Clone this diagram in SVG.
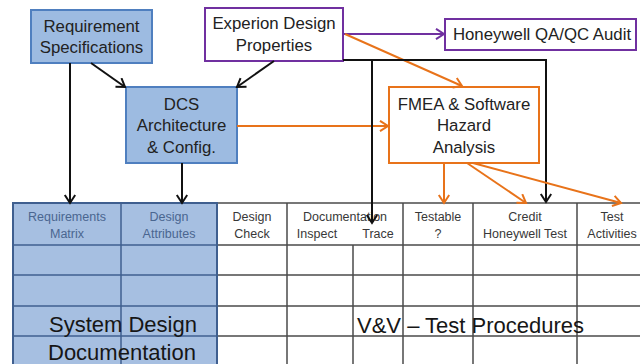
<svg xmlns="http://www.w3.org/2000/svg" width="640" height="364" viewBox="0 0 640 364">
<style>
  text { font-family: "Liberation Sans", Arial, sans-serif; fill: #222222; }
  .box { font-size: 16.8px; text-anchor: middle; }
  .hdr { font-size: 12.5px; text-anchor: middle; fill: #383838; }
  .hdrb { font-size: 12.5px; text-anchor: middle; fill: #4a6690; }
  .big { font-size: 22px; fill: #161616; }
  .grid { stroke: #4a4a4a; stroke-width: 1.5; fill: none; }
  .bgrid { stroke: #3f5f8f; stroke-width: 1.5; fill: none; }
  .blk { stroke: #111; stroke-width: 2; fill: none; marker-end: url(#ab); }
  .org { stroke: #e8731a; stroke-width: 2; fill: none; marker-end: url(#ao); }
  .pur { stroke: #7030a0; stroke-width: 2; fill: none; marker-end: url(#ap); }
</style>
<defs>
  <marker id="ab" markerUnits="userSpaceOnUse" markerWidth="13" markerHeight="13" refX="10" refY="6" orient="auto">
    <path d="M2,0.8 L10,6 L2,11.2" fill="none" stroke="#111" stroke-width="2"/>
  </marker>
  <marker id="ao" markerUnits="userSpaceOnUse" markerWidth="13" markerHeight="13" refX="10" refY="6" orient="auto">
    <path d="M2,0.8 L10,6 L2,11.2" fill="none" stroke="#e8731a" stroke-width="2"/>
  </marker>
  <marker id="ap" markerUnits="userSpaceOnUse" markerWidth="13" markerHeight="13" refX="10" refY="6" orient="auto">
    <path d="M2,0.8 L10,6 L2,11.2" fill="none" stroke="#7030a0" stroke-width="2"/>
  </marker>
</defs>
<rect width="640" height="364" fill="#ffffff"/>

<g id="table">
  <rect x="13" y="203" width="204" height="165" fill="#a6bfe1"/>
  <line class="grid" x1="217" y1="203" x2="640" y2="203"/>
  <line class="grid" x1="217" y1="245" x2="640" y2="245"/>
  <line class="grid" x1="217" y1="275" x2="640" y2="275"/>
  <line class="grid" x1="217" y1="306" x2="640" y2="306"/>
  <line class="grid" x1="217" y1="336" x2="640" y2="336"/>
  <line class="grid" x1="287" y1="203" x2="287" y2="364"/>
  <line class="grid" x1="353" y1="245" x2="353" y2="364"/>
  <line class="grid" x1="403" y1="203" x2="403" y2="364"/>
  <line class="grid" x1="473" y1="203" x2="473" y2="364"/>
  <line class="grid" x1="577" y1="203" x2="577" y2="364"/>
  <line class="bgrid" x1="13" y1="245" x2="217" y2="245"/>
  <line class="bgrid" x1="13" y1="275" x2="217" y2="275"/>
  <line class="bgrid" x1="13" y1="306" x2="217" y2="306"/>
  <line class="bgrid" x1="13" y1="336" x2="217" y2="336"/>
  <line class="bgrid" x1="121" y1="203" x2="121" y2="364"/>
  <path d="M13,364 L13,203 L217,203 L217,364" stroke="#3f5f8f" stroke-width="2" fill="none"/>
  <text class="hdrb" x="67" y="221">Requirements</text>
  <text class="hdrb" x="67" y="238">Matrix</text>
  <text class="hdrb" x="169" y="221">Design</text>
  <text class="hdrb" x="169" y="238">Attributes</text>
  <text class="hdr" x="252" y="221">Design</text>
  <text class="hdr" x="252" y="238">Check</text>
  <text class="hdr" x="345" y="221">Documentation</text>
  <text class="hdr" x="317" y="238">Inspect</text>
  <text class="hdr" x="378" y="238">Trace</text>
  <text class="hdr" x="438" y="221">Testable</text>
  <text class="hdr" x="438" y="238">?</text>
  <text class="hdr" x="525" y="221">Credit</text>
  <text class="hdr" x="525" y="238">Honeywell Test</text>
  <text class="hdr" x="612" y="221">Test</text>
  <text class="hdr" x="612" y="238">Activities</text>
  <text class="big" x="123" y="332" text-anchor="middle">System Design</text>
  <text class="big" x="122" y="360" text-anchor="middle">Documentation</text>
  <text class="big" x="357" y="333">V&amp;V – Test Procedures</text>
</g>

<g id="req-spec">
  <rect x="31" y="10" width="121" height="53" fill="#9dbbe1" stroke="#4f7fbf" stroke-width="2"/>
  <text class="box" x="91.5" y="32">Requirement</text>
  <text class="box" x="91.5" y="53">Specifications</text>
</g>

<g id="experion">
  <rect x="205" y="8" width="138" height="53" fill="#ffffff" stroke="#7030a0" stroke-width="2"/>
  <text class="box" x="274" y="29">Experion Design</text>
  <text class="box" x="274" y="51">Properties</text>
</g>

<g id="honeywell">
  <rect x="445" y="19" width="191" height="31" fill="#ffffff" stroke="#7030a0" stroke-width="2"/>
  <text class="box" x="542" y="40">Honeywell QA/QC Audit</text>
</g>

<g id="dcs">
  <rect x="126" y="87" width="111" height="76" fill="#9dbbe1" stroke="#4f7fbf" stroke-width="2"/>
  <text class="box" x="181.5" y="110">DCS</text>
  <text class="box" x="181.5" y="131">Architecture</text>
  <text class="box" x="181.5" y="153">&amp; Config.</text>
</g>

<g id="fmea">
  <rect x="389" y="87" width="150" height="76" fill="#ffffff" stroke="#e8731a" stroke-width="2"/>
  <text class="box" x="464" y="110">FMEA &amp; Software</text>
  <text class="box" x="464" y="131">Hazard</text>
  <text class="box" x="464" y="153">Analysis</text>
</g>

<g id="connectors">
  <line class="blk" x1="70" y1="63" x2="70" y2="203"/>
  <line class="blk" x1="91" y1="63" x2="125" y2="87"/>
  <line class="blk" x1="274" y1="61" x2="237" y2="87"/>
  <line class="blk" x1="182" y1="163" x2="182" y2="203"/>
  <line class="org" x1="237" y1="126" x2="388" y2="126"/>
  <line class="pur" x1="343" y1="34" x2="444" y2="34"/>
  <line class="org" x1="345" y1="34" x2="462" y2="86"/>
  <polyline class="blk" points="343,60 546,60 546,202"/>
  <line class="blk" x1="372" y1="60" x2="372" y2="223"/>
  <line class="org" x1="444" y1="163" x2="444" y2="203"/>
  <line class="org" x1="467" y1="163" x2="526" y2="203"/>
  <line class="org" x1="473" y1="163" x2="621" y2="203"/>
</g>
</svg>
